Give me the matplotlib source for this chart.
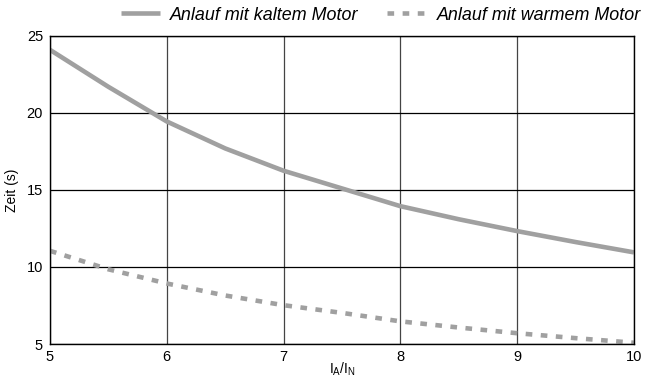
import matplotlib
matplotlib.use("Agg")
import matplotlib.pyplot as plt

plt.rcParams['font.family'] = ['Liberation Sans', 'DejaVu Sans']

ratio = [5, 5.5, 6, 6.5, 7, 7.5, 8, 8.5, 9, 9.5, 10]
kalt = [24.1, 21.7, 19.45, 17.7, 16.25, 15.1, 13.95, 13.1, 12.33, 11.62, 10.95]
warm = [11.05, 9.85, 8.93, 8.15, 7.52, 7.02, 6.47, 6.07, 5.7, 5.38, 5.08]

fig = plt.figure(figsize=(6.45, 3.85), dpi=100)
ax = fig.add_axes([50 / 645, 1 - 344 / 385, 584 / 645, 308 / 385])

grey = '#a0a0a0'
l1, = ax.plot(ratio, kalt, color=grey, lw=3.3, solid_capstyle='butt',
              label='Anlauf mit kaltem Motor')
l2, = ax.plot(ratio, warm, color=grey, lw=3.3, linestyle=(0, (1.45, 1.85)),
              dash_capstyle='butt', label='Anlauf mit warmem Motor')

ax.set_xlim(5, 10)
ax.set_ylim(5, 25)
ax.set_xticks(range(5, 11))
ax.set_yticks([5, 10, 15, 20, 25])
ax.tick_params(length=0, labelsize=10.5)
ax.tick_params(axis='x', pad=4)
ax.tick_params(axis='y', pad=5)
ax.xaxis.grid(True, color='#444444', lw=0.9)
ax.yaxis.grid(True, color='black', lw=0.9)
for s in ax.spines.values():
    s.set_linewidth(1.0)

ax.set_ylabel('Zeit (s)', fontsize=10)
ax.yaxis.set_label_coords(-31 / 584, 0.5)
ax.set_xlabel(r'I$_\mathregular{A}$/I$_\mathregular{N}$', fontsize=10, labelpad=-2)

fig.legend(handles=[l1, l2], loc='center right',
           bbox_to_anchor=(641 / 645, 1 - 15 / 385),
           ncol=2, frameon=False, prop={'style': 'italic', 'size': 12.9},
           borderpad=0, borderaxespad=0,
           handlelength=2.2, columnspacing=1.6, handletextpad=0.55)

fig.savefig('out.png', dpi=100)
